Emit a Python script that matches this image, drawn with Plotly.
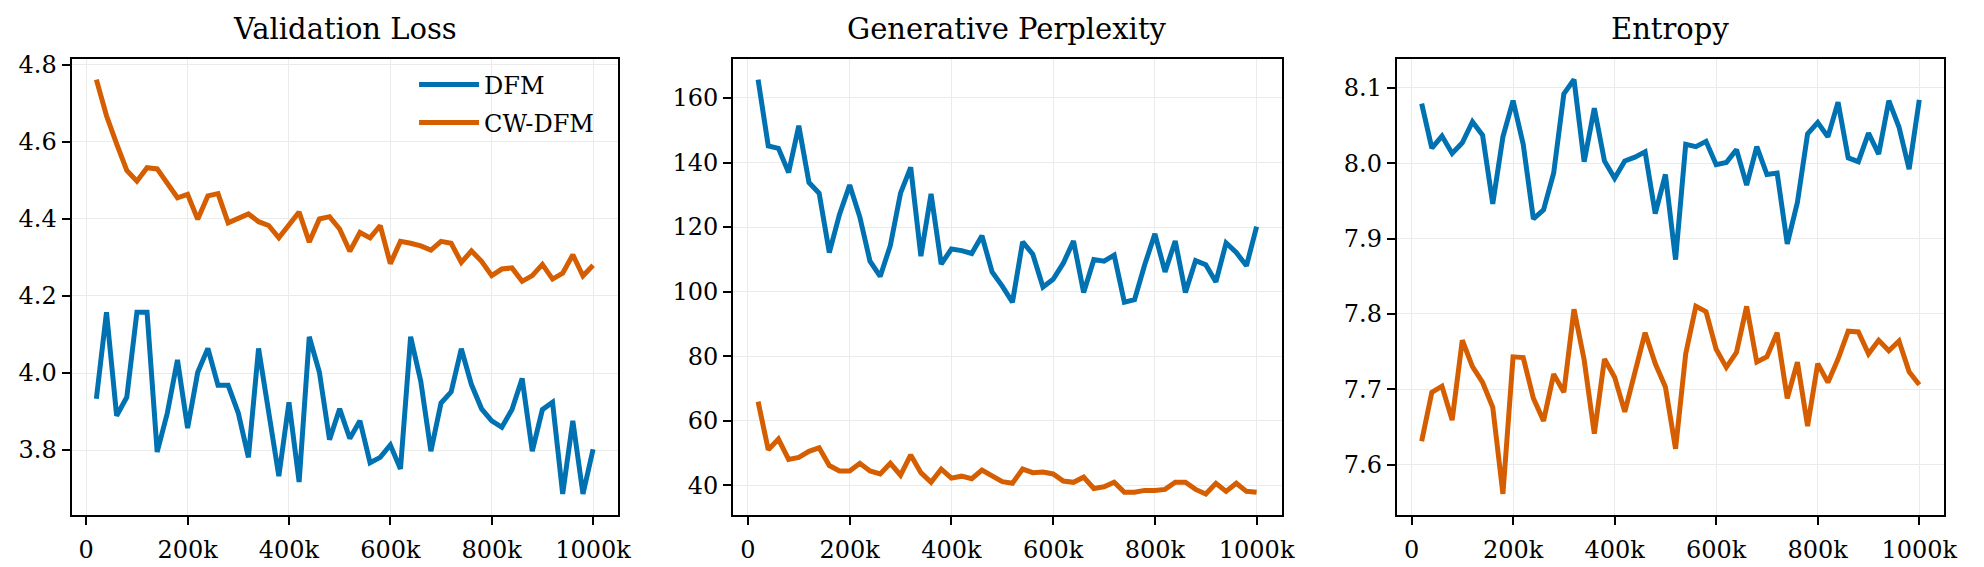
import plotly.graph_objects as go

steps = [20000 * i for i in range(1, 51)]

val_loss_dfm = [3.933, 4.158, 3.889, 3.937, 4.158, 4.158, 3.795, 3.896, 4.034, 3.857,
                4.002, 4.064, 3.968, 3.968, 3.896, 3.781, 4.064, 3.905, 3.732, 3.924,
                3.717, 4.094, 4.002, 3.827, 3.907, 3.830, 3.876, 3.767, 3.781, 3.813,
                3.751, 4.094, 3.979, 3.797, 3.922, 3.951, 4.063, 3.970, 3.907, 3.876,
                3.859, 3.905, 3.986, 3.797, 3.905, 3.924, 3.686, 3.876, 3.686, 3.802]
val_loss_cw = [4.762, 4.668, 4.595, 4.526, 4.498, 4.533, 4.530, 4.494, 4.455, 4.464,
               4.399, 4.460, 4.466, 4.390, 4.402, 4.413, 4.393, 4.383, 4.351, 4.387,
               4.418, 4.340, 4.400, 4.406, 4.374, 4.316, 4.365, 4.351, 4.383, 4.284,
               4.342, 4.337, 4.330, 4.319, 4.342, 4.337, 4.287, 4.317, 4.290, 4.253,
               4.270, 4.273, 4.238, 4.253, 4.282, 4.244, 4.259, 4.307, 4.252, 4.280]

gen_ppl_dfm = [165.7, 145.1, 144.4, 136.9, 151.4, 133.8, 130.5, 112.1, 123.9, 133.0,
               123.1, 109.4, 104.7, 114.3, 130.5, 138.5, 111.0, 130.3, 108.5, 113.2,
               112.7, 111.8, 117.3, 106.1, 101.7, 96.7, 115.4, 111.6, 101.4, 103.8,
               108.8, 115.7, 99.7, 109.9, 109.4, 111.3, 96.7, 97.5, 108.3, 117.9,
               106.1, 115.7, 99.7, 109.6, 108.3, 103.0, 115.1, 112.1, 108.0, 120.1]
gen_ppl_cw = [65.9, 51.0, 54.3, 48.0, 48.6, 50.5, 51.6, 46.1, 44.4, 44.4,
              46.8, 44.4, 43.5, 46.8, 43.1, 49.4, 43.9, 40.9, 45.0, 42.2,
              42.8, 42.0, 44.7, 43.1, 41.1, 40.6, 45.0, 43.9, 44.1, 43.5,
              41.3, 40.9, 42.5, 39.0, 39.5, 40.9, 37.8, 37.8, 38.4, 38.4,
              38.7, 40.9, 40.9, 38.7, 37.3, 40.6, 38.1, 40.6, 38.1, 37.8]

entropy_dfm = [8.079, 8.020, 8.036, 8.013, 8.027, 8.055, 8.037, 7.946, 8.035, 8.083,
               8.025, 7.926, 7.938, 7.987, 8.092, 8.111, 8.002, 8.073, 8.003, 7.980,
               8.003, 8.008, 8.015, 7.933, 7.985, 7.872, 8.025, 8.022, 8.029, 7.998,
               8.001, 8.018, 7.971, 8.022, 7.985, 7.987, 7.893, 7.948, 8.039, 8.054,
               8.035, 8.081, 8.007, 8.002, 8.040, 8.012, 8.083, 8.048, 7.992, 8.084]
entropy_cw = [7.631, 7.696, 7.704, 7.659, 7.765, 7.730, 7.709, 7.676, 7.561, 7.743,
              7.742, 7.688, 7.658, 7.720, 7.696, 7.806, 7.739, 7.641, 7.740, 7.716,
              7.670, 7.721, 7.775, 7.734, 7.703, 7.621, 7.747, 7.810, 7.803, 7.753,
              7.729, 7.749, 7.810, 7.736, 7.743, 7.775, 7.688, 7.736, 7.651, 7.734,
              7.709, 7.740, 7.777, 7.776, 7.747, 7.765, 7.751, 7.764, 7.723, 7.706]

titles = ["Validation Loss", "Generative Perplexity", "Entropy"]
series_names = ["DFM", "CW-DFM"]
x_tickvals = [0, 200000, 400000, 600000, 800000, 1000000]
x_ticktext = ["0", "200k", "400k", "600k", "800k", "1000k"]

BLUE = "#0072B2"
ORANGE = "#D55E00"
FONT = "DejaVu Serif"
W, H = 1984, 567

panels = [
    (val_loss_dfm, val_loss_cw, 0.2, ".1f"),
    (gen_ppl_dfm, gen_ppl_cw, 20, "d"),
    (entropy_dfm, entropy_cw, 0.1, ".1f"),
]
x_px = [(72, 622), (738, 1290), (1406, 1957)]
y_dom = [1 - 514 / H, 1 - 52.5 / H]

fig = go.Figure()
xr = [steps[0] - 0.05 * (steps[-1] - steps[0]), steps[-1] + 0.05 * (steps[-1] - steps[0])]

for i, (dfm, cw, dt, fmt) in enumerate(panels):
    n = "" if i == 0 else str(i + 1)
    xa, ya = "x" + n, "y" + n
    fig.add_trace(go.Scatter(x=steps, y=dfm, mode="lines", name=series_names[0],
                             line=dict(color=BLUE, width=5), xaxis=xa, yaxis=ya,
                             legendgroup="a", showlegend=(i == 0)))
    fig.add_trace(go.Scatter(x=steps, y=cw, mode="lines", name=series_names[1],
                             line=dict(color=ORANGE, width=5), xaxis=xa, yaxis=ya,
                             legendgroup="b", showlegend=(i == 0)))
    lo = min(min(dfm), min(cw))
    hi = max(max(dfm), max(cw))
    pad = 0.05 * (hi - lo)
    axis_common = dict(showline=True, linecolor="black", linewidth=2, mirror=True,
                       ticks="outside", ticklen=8, tickwidth=2, tickcolor="black",
                       showgrid=True, gridcolor="#ebebeb", gridwidth=1, zeroline=False,
                       tickfont=dict(family=FONT, size=24, color="black"))
    fig.layout["xaxis" + n] = dict(
        domain=[x_px[i][0] / W, x_px[i][1] / W], range=xr, anchor=ya,
        tickvals=x_tickvals, ticktext=x_ticktext, ticklabelstandoff=5, **axis_common)
    fig.layout["yaxis" + n] = dict(
        domain=y_dom, range=[lo - pad, hi + pad], anchor=xa,
        dtick=dt, tickformat=fmt, **axis_common)
    fig.add_annotation(text=titles[i], xref="paper", yref="paper",
                       x=(x_px[i][0] + x_px[i][1]) / 2 / W, y=1 - 22 / H,
                       xanchor="center", yanchor="middle", showarrow=False,
                       font=dict(family=FONT, size=29, color="black"))

fig.update_layout(
    width=W, height=H, margin=dict(l=0, r=0, t=0, b=0),
    plot_bgcolor="white", paper_bgcolor="white",
    font=dict(family=FONT, size=24, color="black"),
    legend=dict(x=603 / W, xanchor="right", y=1 - 56 / H, yanchor="top",
                bgcolor="rgba(0,0,0,0)", font=dict(family=FONT, size=24),
                itemwidth=60, tracegroupgap=4),
)

fig.write_html("out.html")
